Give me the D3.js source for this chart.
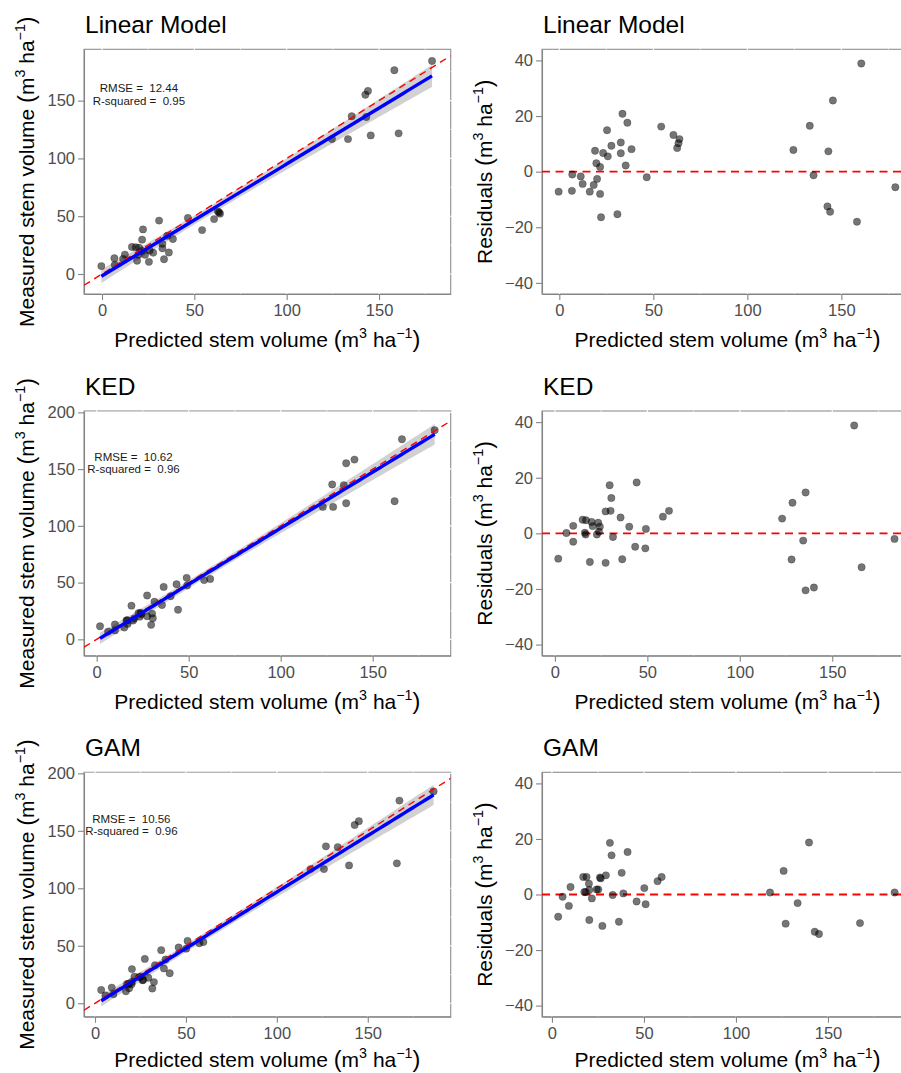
<!DOCTYPE html>
<html>
<head>
<meta charset="utf-8">
<script src="https://cdn.jsdelivr.net/npm/d3@7"></script>
<style>
  body { margin: 0; background: #fff; }
  svg { display: block; font-family: "Liberation Sans", Arial, Helvetica, sans-serif; }
  text { white-space: pre; }
</style>
</head>
<body>
<svg id="chart" width="901" height="1073"></svg>
<script>
const measured = [6.85, 7.9, 10.5, 11.5, 12.8, 13.1, 13.6, 16.6, 16.7, 16.8, 18.4, 18.6, 20.0, 20.3,
  22.2, 22.7, 23.1, 23.4, 26.1, 29.7, 30.3, 33.1, 38.0, 38.6, 46.2, 47.5, 48.5, 52.2, 53.2, 54.2,
  116.7, 116.7, 119.9, 121.7, 135.8, 136.5, 155.1, 158.4, 176.3, 184.3];

const predLM = [-0.35, 6.9, 25.4, 19.0, 33.6, 11.4, 6.7, 23.3, 19.7, 12.4, 27.7, 36.2, 21.7, 25.8,
  32.7, 20.1, 18.3, 16.2, 32.7, 21.7, 38.4, 35.3, 54.2, 22.2, 30.9, 60.7, 46.5, 63.9, 63.4, 62.7,
  124.5, 133.2, 145.5, 160.6, 143.1, 135.2, 142.6, 144.0, 158.3, 178.7];
const residLM = [-7.2, -1.0, 14.9, 7.5, 20.8, -1.7, -6.9, 6.7, 3.0, -4.4, 9.3, 17.6, 1.7, 5.5,
  10.5, -2.6, -4.8, -7.2, 6.6, -8.0, 8.1, 2.2, 16.2, -16.4, -15.3, 13.2, -2.0, 11.7, 10.2, 8.5,
  7.8, 16.5, 25.6, 38.9, 7.3, -1.3, -12.5, -14.4, -18.0, -5.6];

const predKED = [6.2, 9.9, 15.0, 1.8, 29.6, 9.9, 16.8, 19.8, 16.2, 16.6, 20.4, 30.5, 23.4, 27.4,
  24.3, 30.1, 22.7, 23.8, 44.2, 18.9, 35.5, 31.4, 40.2, 27.4, 36.4, 49.2, 43.4, 58.4, 61.7, 48.9,
  122.9, 128.5, 135.6, 161.9, 134.3, 128.0, 135.6, 140.1, 165.9, 183.7];
const residKED = [0.1, 2.7, 4.9, -9.1, 17.3, -3.0, 4.7, 4.1, 0.2, -0.4, 2.6, 12.7, 3.8, 7.9,
  2.4, 8.1, -0.4, 0.6, 18.3, -10.3, 5.7, -1.3, 2.4, -10.6, -9.3, 1.6, -4.8, 6.0, 8.1, -5.4,
  5.3, 11.0, 14.7, 38.8, -2.6, -9.4, -20.5, -19.5, -12.2, -2.0];

const predGAM = [5.8, 10.1, 17.0, 3.4, 31.5, 18.8, 9.2, 20.1, 17.6, 18.4, 32.4, 20.3, 26.1, 26.5,
  29.3, 24.3, 21.7, 25.2, 41.1, 20.3, 37.9, 33.0, 38.8, 27.4, 36.4, 50.2, 46.0, 57.4, 59.6, 50.9,
  118.5, 125.9, 139.7, 166.0, 133.5, 127.0, 142.8, 145.1, 167.4, 186.2];
// the 44.3 residual is outside the plotted limits and is not drawn
const residGAM = [-0.8, 2.7, 6.3, -8.0, 18.6, 6.3, -4.1, 3.9, 0.9, 0.9, 14.1, 1.6, 6.1, 5.8,
  6.9, 1.8, -1.4, 1.8, 15.3, -9.2, 7.8, -0.2, 0.4, -11.3, -9.8, 2.3, -2.5, 4.8, 6.3, -3.5,
  0.7, 8.5, 18.7, null, -3.1, -10.5, -13.4, -14.2, -10.3, 0.7];

const modelNames = ["Linear Model", "KED", "GAM"];
const rmseLabels = ["12.44", "10.62", "10.56"];
const r2Labels = ["0.95", "0.96", "0.96"];
const predicted = [predLM, predKED, predGAM];
const residuals = [residLM, residKED, residGAM];

const fitXDomains = [[-9.75, 188.8], [-6.9, 192.4], [-6.05, 195.6]];
const fitYDomains = [[-17.3, 194.4], [-14.4, 201.2], [-11.7, 200.9]];
const resXDomains = [[-9.2, 188.1], [-7.0, 193.7], [-5.4, 196.2]];
const resYDomain = [-44, 44];

const xTicks = [0, 50, 100, 150];
const xMinor = [25, 75, 125, 175];
const fitYTicks = [[0, 50, 100, 150], [0, 50, 100, 150, 200], [0, 50, 100, 150, 200]];
const fitYMinor = [25, 75, 125, 175];
const resYTicks = [-40, -20, 0, 20, 40];
const resYMinor = [-30, -10, 10, 30];

// --- Layout ---
const svg = d3.select("#chart");
const rows = [{ top: 49.3, bottom: 294 }, { top: 411, bottom: 655.7 }, { top: 772.3, bottom: 1016.7 }];
const leftRange = [84, 450.7];
const rightRange = [542, 913];
const axisColor = "#858585";
let clipId = 0;

function supLabel(text, prefix, size) {
    text.append("tspan").text(prefix);
    text.append("tspan").attr("font-size", size * 1.12).text("(");
    text.append("tspan").text("m");
    text.append("tspan").attr("font-size", size * 0.68).attr("dy", -size * 0.42).text("3");
    text.append("tspan").attr("dy", size * 0.42).text(" ha");
    text.append("tspan").attr("font-size", size * 0.68).attr("dy", -size * 0.42).text("\u22121");
    text.append("tspan").attr("font-size", size * 1.12).attr("dy", size * 0.42).text(")");
}

function panelFrame(g, x, y, yTicks, yMinor, title, yTitle) {
    const [x0, x1] = x.range();
    const [yb, yt] = y.range();

    g.append("rect")
        .attr("x", x0).attr("y", yt)
        .attr("width", x1 - x0).attr("height", yb - yt)
        .attr("fill", "#fff")
        .attr("stroke", "#8f8f8f")
        .attr("stroke-width", 1.1);

    // white grid lines (only visible where they cross the border)
    const grid = g.append("g").attr("stroke", "#fff");
    xMinor.filter(v => x(v) < x1).forEach(v => grid.append("line")
        .attr("x1", x(v)).attr("x2", x(v)).attr("y1", yt - 1).attr("y2", yb)
        .attr("stroke-width", 0.6));
    xTicks.forEach(v => grid.append("line")
        .attr("x1", x(v)).attr("x2", x(v)).attr("y1", yt - 1).attr("y2", yb)
        .attr("stroke-width", 1.1));
    yMinor.filter(v => y(v) > yt).forEach(v => grid.append("line")
        .attr("x1", x0).attr("x2", x1 + 1).attr("y1", y(v)).attr("y2", y(v))
        .attr("stroke-width", 0.6));
    yTicks.forEach(v => grid.append("line")
        .attr("x1", x0).attr("x2", x1 + 1).attr("y1", y(v)).attr("y2", y(v))
        .attr("stroke-width", 1.1));

    const xAxis = g.append("g")
        .attr("transform", `translate(0,${yb})`)
        .call(d3.axisBottom(x).tickValues(xTicks).tickSize(6).tickSizeOuter(0).tickPadding(4.5));
    const yAxis = g.append("g")
        .attr("transform", `translate(${x0},0)`)
        .call(d3.axisLeft(y).tickValues(yTicks).tickSize(6).tickSizeOuter(0).tickPadding(3));

    [xAxis, yAxis].forEach(a => {
        a.attr("font-family", null).attr("font-size", 16.5);
        a.select(".domain").attr("stroke", axisColor).attr("stroke-width", 1.1);
        a.selectAll(".tick line").attr("stroke", axisColor).attr("stroke-width", 1.1);
        a.selectAll(".tick text").attr("fill", "#4d4d4d");
    });

    g.append("text")
        .attr("x", x0 + 1).attr("y", yt - 16)
        .attr("font-size", 24.5)
        .attr("fill", "#000")
        .text(title);

    // keep the lowest axis title inside the page
    const xt = g.append("text")
        .attr("x", (x0 + x1) / 2).attr("y", Math.min(yb + 53, 1066.5))
        .attr("text-anchor", "middle")
        .attr("font-size", 21);
    supLabel(xt, "Predicted stem volume ", 21);

    const ytx = g.append("text")
        .attr("transform", `translate(${x0 - 50},${(yt + yb) / 2}) rotate(-90)`)
        .attr("text-anchor", "middle")
        .attr("font-size", 21);
    supLabel(ytx, yTitle, 21);
}

function addClip(g, x, y) {
    const id = "clip" + (clipId++);
    const [x0, x1] = x.range();
    const [yb, yt] = y.range();
    g.append("clipPath").attr("id", id)
        .append("rect").attr("x", x0).attr("y", yt).attr("width", x1 - x0).attr("height", yb - yt);
    return g.append("g").attr("clip-path", `url(#${id})`);
}

// ordinary least squares with a 95% confidence band (as geom_smooth(method = "lm"))
function linearFit(xs, ys) {
    const n = xs.length;
    const mx = d3.mean(xs), my = d3.mean(ys);
    const sxx = d3.sum(xs, v => (v - mx) ** 2);
    const sxy = d3.sum(xs, (v, i) => (v - mx) * (ys[i] - my));
    const b = sxy / sxx, a = my - b * mx;
    const s = Math.sqrt(d3.sum(xs, (v, i) => (ys[i] - a - b * v) ** 2) / (n - 2));
    const t = 2.024;
    const [lo, hi] = d3.extent(xs);
    return d3.range(0, 81).map(k => {
        const xv = lo + (hi - lo) * k / 80;
        const se = s * Math.sqrt(1 / n + (xv - mx) ** 2 / sxx);
        const fit = a + b * xv;
        return { x: xv, fit, lo: fit - t * se, hi: fit + t * se };
    });
}

function drawPoints(g, data, cx, cy) {
    g.append("g")
        .selectAll("circle")
        .data(data)
        .join("circle")
        .attr("cx", cx)
        .attr("cy", cy)
        .attr("r", 3.7)
        .attr("fill", "#000").attr("fill-opacity", 0.54)
        .attr("stroke", "#000").attr("stroke-opacity", 0.3).attr("stroke-width", 0.7);
}

modelNames.forEach((name, i) => {
    const row = rows[i];
    const preds = predicted[i];
    const res = residuals[i];

    // --- Measured vs predicted ---
    const x = d3.scaleLinear().domain(fitXDomains[i]).range(leftRange);
    const y = d3.scaleLinear().domain(fitYDomains[i]).range([row.bottom, row.top]);
    const gL = svg.append("g");
    panelFrame(gL, x, y, fitYTicks[i], fitYMinor, name, "Measured stem volume ");
    const plotL = addClip(gL, x, y);

    const band = linearFit(preds, measured);
    plotL.append("path")
        .datum(band)
        .attr("fill", "#999999")
        .attr("fill-opacity", 0.45)
        .attr("d", d3.area().x(d => x(d.x)).y0(d => y(d.lo)).y1(d => y(d.hi)));

    drawPoints(plotL, preds.map((p, k) => ({ p, m: measured[k] })), d => x(d.p), d => y(d.m));

    const xd = x.domain();
    plotL.append("line")
        .attr("x1", x(xd[0])).attr("y1", y(xd[0]))
        .attr("x2", x(xd[1])).attr("y2", y(xd[1]))
        .attr("stroke", "#ff0000")
        .attr("stroke-width", 1.4)
        .attr("stroke-dasharray", "7,5");

    plotL.append("path")
        .datum(band)
        .attr("fill", "none")
        .attr("stroke", "#0000ff")
        .attr("stroke-width", 3.4)
        .attr("d", d3.line().x(d => x(d.x)).y(d => y(d.fit)));

    [["RMSE =  " + rmseLabels[i], 157.2], ["R-squared =  " + r2Labels[i], 146.6]].forEach(([txt, yv]) => {
        gL.append("text")
            .attr("x", x(20)).attr("y", y(yv))
            .attr("text-anchor", "middle")
            .attr("font-size", 11.5)
            .attr("fill", "#1a1a1a")
            .text(txt);
    });

    // --- Residuals vs predicted ---
    const xr = d3.scaleLinear().domain(resXDomains[i]).range(rightRange);
    const yr = d3.scaleLinear().domain(resYDomain).range([row.bottom, row.top]);
    const gR = svg.append("g");
    panelFrame(gR, xr, yr, resYTicks, resYMinor, name, "Residuals ");
    const plotR = addClip(gR, xr, yr);

    plotR.append("line")
        .attr("x1", rightRange[0]).attr("x2", rightRange[1])
        .attr("y1", yr(0)).attr("y2", yr(0))
        .attr("stroke", "#ff0000")
        .attr("stroke-width", 1.8)
        .attr("stroke-dasharray", "8,5.5");

    drawPoints(plotR, preds.map((p, k) => ({ p, r: res[k] })).filter(d => d.r !== null),
        d => xr(d.p), d => yr(d.r));
});
</script>
</body>
</html>
